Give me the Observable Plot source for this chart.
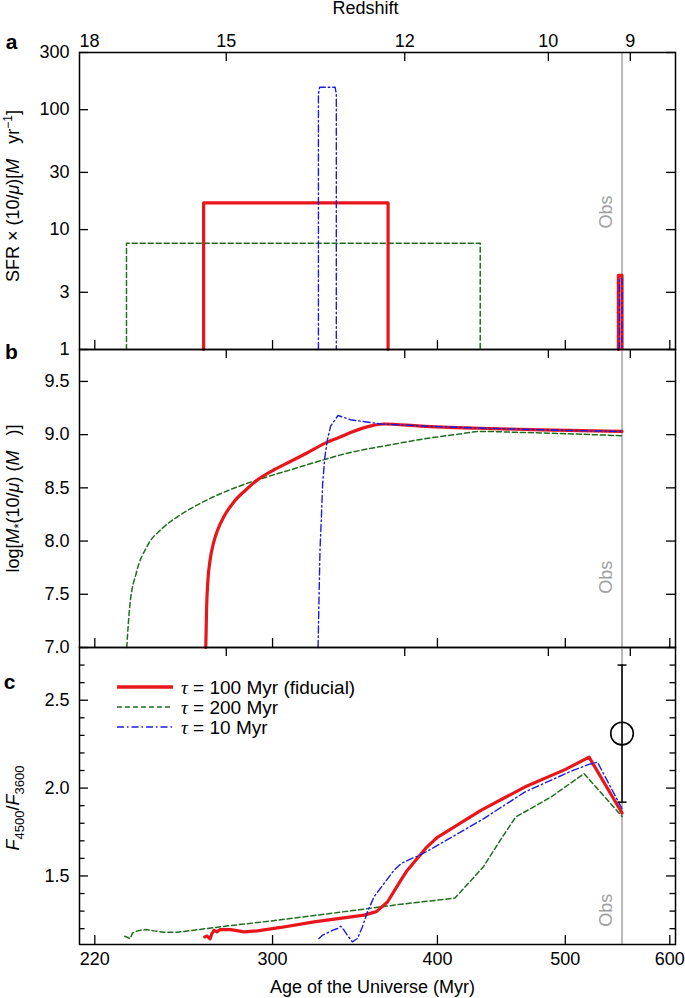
<!DOCTYPE html>
<html><head><meta charset="utf-8">
<script src="https://cdn.jsdelivr.net/npm/d3@7"></script>
<script src="https://cdn.jsdelivr.net/npm/@observablehq/plot@0.6"></script>
<style>
body{margin:0;background:#fff;}
#wrap{position:relative;width:685px;height:998px;background:#fff;}
#wrap svg{position:absolute;left:0;top:0;overflow:visible;}
</style></head><body><div id="wrap"></div>
<script>
// ---------------- data ----------------
const obsAge = 552;                       // Myr (observation epoch)
const ageTicks = [220, 300, 400, 500, 600];
const redshiftTicks = [18, 15, 12, 10, 9];
const seriesNames = ["τ = 100 Myr (fiducial)", "τ = 200 Myr", "τ = 10 Myr"];

// panel a: SFR x (10/mu)  [Msun/yr]
const sfrAge100 = [266, 266, 367, 367, 548.5, 548.5, 552, 552];
const sfrVal100 = [1, 16.7, 16.7, 1, 1, 4.15, 4.15, 1];
const sfrSeg100 = [0, 0, 0, 0, 1, 1, 1, 1];
const sfrAge200 = [232.5, 232.5, 431, 431];
const sfrVal200 = [1, 7.7, 7.7, 1];
const sfrSeg200 = [0, 0, 0, 0];
const sfrAge10 = [325, 325, 325.7, 334.6, 335.3, 335.3, 549.5, 549.5, 552, 552];
const sfrVal10 = [1, 135, 154, 154, 135, 1, 1, 3.9, 3.9, 1];
const sfrSeg10 = [0, 0, 0, 0, 0, 0, 1, 1, 1, 1];

// panel b: log stellar mass
const massAge100 = [267.0, 267.4, 268.0, 269.0, 270.6, 272.5, 275.6, 280.5, 286.3, 292.2, 300.8, 309.7, 318.8, 330.1, 337.9, 343.8, 357.1, 364.4, 388.5, 430, 480, 552];
const massVal100 = [7.0, 7.38, 7.63, 7.82, 7.98, 8.10, 8.23, 8.37, 8.48, 8.575, 8.67, 8.75, 8.83, 8.93, 8.98, 9.02, 9.085, 9.10, 9.08, 9.06, 9.045, 9.03];
const massAge200 = [232.6, 233.8, 236.5, 241, 247.5, 255, 265, 277.6, 292.2, 309.7, 328.2, 337.9, 370.6, 388.5, 415.4, 431, 465.8, 552];
const massVal200 = [7.0, 7.38, 7.70, 7.95, 8.12, 8.24, 8.36, 8.475, 8.575, 8.67, 8.765, 8.81, 8.91, 8.955, 9.005, 9.03, 9.02, 8.99];
const massAge10 = [324.8, 325.3, 325.9, 326.7, 327.4, 328.6, 330.1, 332, 336.3, 343.8, 362.4, 400, 450, 500, 552];
const massVal10 = [7.0, 7.44, 7.92, 8.23, 8.54, 8.78, 8.95, 9.08, 9.18, 9.14, 9.10, 9.075, 9.055, 9.04, 9.03];

// panel c: F4500/F3600
const ratioAge100 = [266.5, 267.6, 269.0, 269.8, 270.9, 272.2, 273.8, 278.9, 285.5, 292.2, 304.3, 322.5, 351.9, 359.6, 366.6, 375.3, 379.3, 392.5, 400, 431.5, 465.8, 499.7, 521.2, 552];
const ratioVal100 = [1.153, 1.158, 1.142, 1.17, 1.191, 1.182, 1.195, 1.195, 1.182, 1.188, 1.207, 1.239, 1.277, 1.297, 1.352, 1.476, 1.53, 1.663, 1.72, 1.873, 2.006, 2.105, 2.176, 1.858];
const ratioAge200 = [231.8, 234, 235, 237, 240.5, 244, 248.3, 254.1, 261.6, 273.3, 299.4, 343.4, 375.3, 412.4, 433.3, 446.7, 458.5, 487.6, 516.6, 552];
const ratioVal200 = [1.157, 1.144, 1.176, 1.1875, 1.195, 1.1875, 1.18, 1.18, 1.1915, 1.21, 1.244, 1.301, 1.339, 1.374, 1.551, 1.707, 1.835, 1.949, 2.082, 1.839];
const ratioAge10 = [325.3, 327.3, 330.1, 333, 336.0, 337.9, 339.9, 341.8, 344.8, 347.9, 350.9, 354.0, 358.1, 364.4, 370.8, 375.3, 382.2, 388, 400, 431.5, 465.8, 502.8, 521, 528.8, 552];
const ratioVal10 = [1.144, 1.163, 1.176, 1.19, 1.201, 1.214, 1.191, 1.163, 1.125, 1.144, 1.210, 1.295, 1.381, 1.457, 1.532, 1.570, 1.599, 1.618, 1.674, 1.816, 1.977, 2.09, 2.135, 2.148, 1.883];
const obsRatio = 2.31, obsRatioLo = 1.92, obsRatioHi = 2.70;

// axis ticks
const sfrTicks = [1, 3, 10, 30, 100, 300];
const massTicks = [7.0, 7.5, 8.0, 8.5, 9.0, 9.5];
const ratioTicks = [1.5, 2.0, 2.5];
const ratioMinor = [1.2, 1.3, 1.4, 1.6, 1.7, 1.8, 1.9, 2.1, 2.2, 2.3, 2.4, 2.6, 2.7];
const obsLabelY = [14, 7.66, 1.305];

// ---------------- settings ----------------
const FONT = '"Liberation Sans", Arial, Helvetica, sans-serif';
const W = 685, H = 998, ML = 79, MR = 10;
const FW = W - ML - MR;
const xDomain = [214.2, 606];
const zToAge = z => 17710 * Math.pow(1 + z, -1.5);   // approx. age-redshift relation
const sty = [
  {stroke: "#e8161b", strokeWidth: 3.2},
  {stroke: "#1e6e1e", strokeWidth: 1.5, strokeDasharray: "5,3"},
  {stroke: "#1c1ce0", strokeWidth: 1.4, strokeDasharray: "7,3,1.5,3"}
];
const rows = (a, v, s) => a.map((d, i) => ({age: d, val: v[i], seg: s ? s[i] : 0}));
const inX = d => d > xDomain[0] + 0.5 && d < xDomain[1];
const C = {textAnchor: "middle", lineAnchor: "middle"};

function commonMarks(fh) {
  return [
    Plot.ruleX([obsAge], {stroke: "#a3a3a3", strokeWidth: 1.5}),
    Plot.ruleX(ageTicks.filter(inX), {insetTop: fh - 9, stroke: "#000", strokeWidth: 1.3}),
    Plot.ruleX(redshiftTicks.map(zToAge).filter(inX), {insetBottom: fh - 9, stroke: "#000", strokeWidth: 1.3})
  ];
}
function yTickMarks(ticks, len) {
  return [
    Plot.ruleY(ticks, {insetRight: FW - len, stroke: "#000", strokeWidth: 1.3}),
    Plot.ruleY(ticks, {insetLeft: FW - len, stroke: "#000", strokeWidth: 1.3})
  ];
}
function lineMark(data, s, curve) {
  return Plot.line(data, {x: "age", y: "val", z: "seg", curve: curve || "linear", ...s, strokeLinejoin: "round"});
}
function richText(svg, key, parts) {
  d3.select(svg).selectAll("text").filter(function () { return this.textContent === key; }).each(function () {
    const t = d3.select(this); t.text(null);
    let cur = 0;
    for (const p of parts) {
      const s = t.append("tspan").text(p.t);
      const sh = p.shift || 0;
      if (sh !== cur) s.attr("dy", (cur - sh) + "px");
      cur = sh;
      if (p.italic) s.attr("font-style", "italic");
      if (p.serif) s.attr("font-family", '"Liberation Serif","DejaVu Serif",serif');
      if (p.size) s.attr("font-size", p.size + "px");
    }
  });
}
const plotStyle = {background: "transparent", fontFamily: FONT, fontSize: "18px", overflow: "visible"};
const wrap = document.getElementById("wrap");
const obsText = (i) => Plot.text([obsAge], {x: d => d, y: () => obsLabelY[i], rotate: -90, dx: -16, text: () => "Obs", fill: "#a0a0a0", fontSize: 18, ...C});

// ---------------- panel a ----------------
{
  const mt = 52, mb = H - 349, fh = H - mt - mb;
  const labA = "SFR × (10/μ)[M   yr−1]";
  const p = Plot.plot({
    width: W, height: H, marginLeft: ML, marginRight: MR, marginTop: mt, marginBottom: mb,
    x: {type: "log", domain: xDomain, axis: null},
    y: {type: "log", domain: [1, 300], axis: null},
    style: plotStyle,
    marks: [
      ...commonMarks(fh),
      ...yTickMarks(sfrTicks, 9),
      lineMark(rows(sfrAge200, sfrVal200, sfrSeg200), sty[1]),
      lineMark(rows(sfrAge100, sfrVal100, sfrSeg100), sty[0]),
      lineMark(rows(sfrAge10, sfrVal10, sfrSeg10), sty[2]),
      Plot.axisY(sfrTicks, {anchor: "left", tickSize: 0, tickPadding: 10, tickFormat: d => String(d), label: null, fontSize: 18}),
      Plot.text(redshiftTicks.filter(z => inX(zToAge(z))), {x: zToAge, frameAnchor: "top", dy: -11, text: d => String(d), fontSize: 18, ...C}),
      Plot.text(redshiftTicks.filter(z => !inX(zToAge(z))), {x: () => xDomain[0], frameAnchor: "top", dy: -11, text: d => String(d), fontSize: 18, lineAnchor: "middle", textAnchor: "start"}),
      Plot.text(["Redshift"], {frameAnchor: "top", dy: -44, dx: -12, fontSize: 18, ...C}),
      Plot.text(["a"], {frameAnchor: "top-left", dx: -68, dy: -10, fontSize: 21, fontWeight: "bold", ...C}),
      Plot.text([labA], {frameAnchor: "left", dx: -66, dy: -5, rotate: -90, fontSize: 18, ...C}),
      obsText(0),
      Plot.frame({stroke: "#000", strokeWidth: 1.5})
    ]
  });
  richText(p, labA, [{t: "SFR × (10/"}, {t: "μ", italic: true}, {t: ")["}, {t: "M", italic: true}, {t: "   yr"}, {t: "−1", size: 12, shift: 7}, {t: "]"}]);
  wrap.appendChild(p);
}

// ---------------- panel b ----------------
{
  const mt = 349, mb = H - 647, fh = H - mt - mb;
  const labB = "log[M*(10/μ) (M   )]";
  const p = Plot.plot({
    width: W, height: H, marginLeft: ML, marginRight: MR, marginTop: mt, marginBottom: mb,
    x: {type: "log", domain: xDomain, axis: null},
    y: {domain: [7.0, 9.8], axis: null},
    style: plotStyle,
    marks: [
      ...commonMarks(fh),
      ...yTickMarks(massTicks, 9),
      lineMark(rows(massAge200, massVal200), sty[1], "monotone-x"),
      lineMark(rows(massAge100, massVal100), sty[0], "monotone-x"),
      lineMark(rows(massAge10, massVal10), sty[2]),
      Plot.axisY(massTicks, {anchor: "left", tickSize: 0, tickPadding: 10, tickFormat: d3.format(".1f"), label: null, fontSize: 18}),
      Plot.text(["b"], {frameAnchor: "top-left", dx: -68, dy: 3, fontSize: 21, fontWeight: "bold", ...C}),
      Plot.text([labB], {frameAnchor: "left", dx: -66, dy: 0, rotate: -90, fontSize: 18, ...C}),
      obsText(1),
      Plot.frame({stroke: "#000", strokeWidth: 1.5})
    ]
  });
  richText(p, labB, [{t: "log["}, {t: "M", italic: true}, {t: "*", size: 13, shift: -4}, {t: "(10/"}, {t: "μ", italic: true}, {t: ") ("}, {t: "M", italic: true}, {t: "   )]"}]);
  wrap.appendChild(p);
}

// ---------------- panel c ----------------
{
  const mt = 647, mb = 54, fh = H - mt - mb;
  const labC = "F4500/F3600";
  const p = Plot.plot({
    width: W, height: H, marginLeft: ML, marginRight: MR, marginTop: mt, marginBottom: mb,
    x: {type: "log", domain: xDomain, axis: null},
    y: {domain: [1.11, 2.8], axis: null},
    style: plotStyle,
    marks: [
      ...commonMarks(fh),
      ...yTickMarks(ratioTicks, 9),
      ...yTickMarks(ratioMinor, 5.5),
      lineMark(rows(ratioAge200, ratioVal200), sty[1]),
      lineMark(rows(ratioAge100, ratioVal100), sty[0]),
      lineMark(rows(ratioAge10, ratioVal10), sty[2]),
      Plot.ruleX([obsAge], {y1: obsRatioLo, y2: obsRatioHi, stroke: "#000", strokeWidth: 1.5}),
      Plot.dot([obsRatioLo, obsRatioHi], {x: () => obsAge, y: d => d, r: 4.5, stroke: "#000", strokeWidth: 1.5,
        symbol: {draw(ctx, size) { const r = Math.sqrt(size / Math.PI); ctx.moveTo(-r, 0); ctx.lineTo(r, 0); }}}),
      Plot.dot([obsRatio], {x: () => obsAge, y: d => d, r: 11.3, stroke: "#000", strokeWidth: 1.6, fill: "none"}),
      Plot.axisY(ratioTicks, {anchor: "left", tickSize: 0, tickPadding: 10, tickFormat: d3.format(".1f"), label: null, fontSize: 18}),
      Plot.axisX(ageTicks, {anchor: "bottom", tickSize: 0, tickPadding: 8, label: null, fontSize: 18}),
      Plot.text(["Age of the Universe (Myr)"], {frameAnchor: "bottom", dy: 43, dx: -5, fontSize: 18, ...C}),
      Plot.text(["c"], {frameAnchor: "top-left", dx: -70, dy: 35, fontSize: 21, fontWeight: "bold", ...C}),
      Plot.text([labC], {frameAnchor: "left", dx: -66, dy: 12, rotate: -90, fontSize: 18, ...C}),
      obsText(2),
      Plot.frame({stroke: "#000", strokeWidth: 1.5})
    ]
  });
  richText(p, labC, [{t: "F", italic: true}, {t: "4500", size: 13, shift: -5}, {t: "/"}, {t: "F", italic: true}, {t: "3600", size: 13, shift: -5}]);
  wrap.appendChild(p);
}

// ---------------- legend (inside panel c) ----------------
{
  const lg = d3.select(wrap).append("svg").attr("width", W).attr("height", H)
    .style("font-family", FONT).style("font-size", "19px");
  const rowY = [687, 707, 727];
  seriesNames.forEach((name, i) => {
    const s = sty[i];
    lg.append("line").attr("x1", 117).attr("x2", 173).attr("y1", rowY[i]).attr("y2", rowY[i])
      .attr("stroke", s.stroke).attr("stroke-width", i === 0 ? 3.6 : s.strokeWidth)
      .attr("stroke-dasharray", s.strokeDasharray || null);
    const t = lg.append("text").attr("x", 181).attr("y", rowY[i]).attr("dy", "0.36em");
    t.append("tspan").attr("font-style", "italic").attr("font-family", '"Liberation Serif","DejaVu Serif",serif').text(name.slice(0, 1));
    t.append("tspan").text(name.slice(1));
  });
}
</script></body></html>
